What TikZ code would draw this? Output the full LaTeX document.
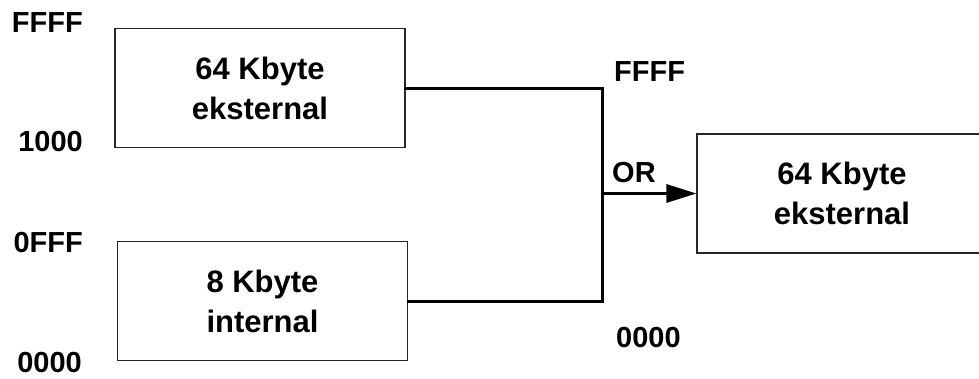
\documentclass[tikz,border=0pt]{standalone}
\usepackage{fontspec}
\setmainfont{Liberation Sans}
\usetikzlibrary{arrows.meta}
\tikzset{
  membox/.style={draw=black!85, line width=1.1pt, minimum width=290pt, minimum height=119pt,
    inner sep=0pt, align=center, font=\fontsize{31}{40}\selectfont\bfseries},
  addr/.style={inner sep=0pt, font=\fontsize{29}{30}\selectfont\bfseries},
  conn/.style={line width=3pt, line cap=rect, black}
}
\begin{document}
\begin{tikzpicture}[x=1pt,y=-1pt]
\useasboundingbox (0,0) rectangle (979,378);
\clip (0,0) rectangle (979,378);
% boxes
\node[membox] (ext) at (260,88) {64 Kbyte\\eksternal};
\node[membox] (int) at (262.5,301) {8 Kbyte\\internal};
\node[membox] (res) at (842,193.5) {64 Kbyte\\eksternal};
% address labels left
\node[addr, anchor=east] (l1) at (83,23) {FFFF};
\node[addr, anchor=east] (l2) at (83,142) {1000};
\node[addr, anchor=east] (l3) at (83,243) {0FFF};
\node[addr, anchor=east] (l4) at (82,363) {0000};
% address labels right
\node[addr, anchor=west] (r1) at (614,72) {FFFF};
\node[addr, anchor=west] (r2) at (612,173) {OR};
\node[addr, anchor=west] (r3) at (616,338) {0000};
% connectors
\coordinate (bt) at (602,88);
\coordinate (bb) at (602,301);
\coordinate (bm) at (602,193.5);
\draw[conn] (ext.east) -- (bt) -- (bb) -- (int.east);
\draw[line width=3pt, -{Triangle[length=30pt,width=18pt]}] (bm) -- (res.west);
\end{tikzpicture}
\end{document}
